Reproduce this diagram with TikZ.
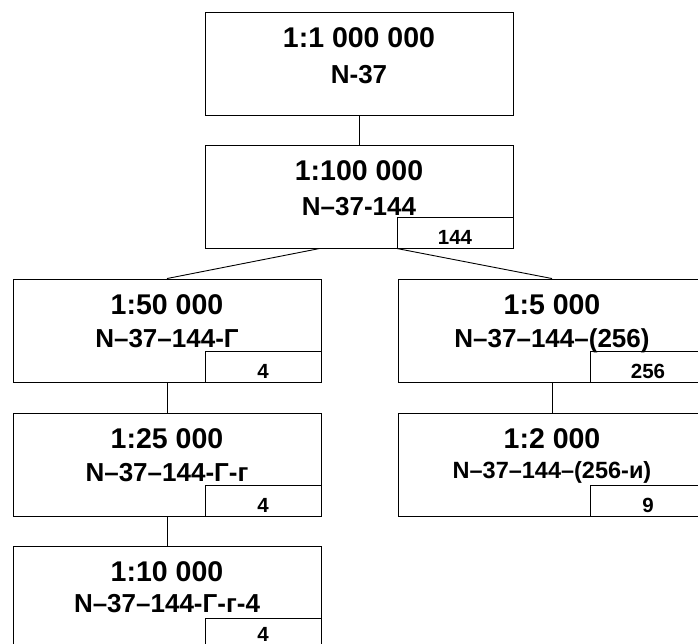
\documentclass[tikz,border=0pt]{standalone}
\usepackage{fontspec}
\setmainfont{Liberation Sans}
\usetikzlibrary{positioning}
\tikzset{
  sheet/.style={draw, line width=0.9pt, minimum width=308pt, minimum height=103pt, inner sep=0pt},
  cell/.style={draw, line width=0.9pt, minimum width=116pt, minimum height=31pt, inner sep=0pt, anchor=south east},
  scaletxt/.style={anchor=base, font=\fontsize{28.5}{30}\selectfont\bfseries},
  nomtxt/.style={anchor=base, font=\fontsize{26}{28}\selectfont\bfseries},
  numtxt/.style={anchor=base, inner sep=1pt, font=\fontsize{20.5}{22}\selectfont\bfseries},
  link/.style={line width=0.9pt}
}
\begin{document}
\begin{tikzpicture}[x=1pt,y=1pt]
    \useasboundingbox (0,0) rectangle (698,644);

    % 1:1 000 000
    \node[sheet] (m1000k) at (359,580.5) {};
    \node[scaletxt] (s1000k) at ([yshift=-36pt]m1000k.north) {1:1 000 000};
    \node[nomtxt] (n1000k) at ([yshift=-72pt]m1000k.north) {N-37};

    % 1:100 000
    \node[sheet] (m100k) at (359,447.5) {};
    \node[cell] (c100k) at (m100k.south east) {};
    \node[scaletxt] (s100k) at ([yshift=-36pt]m100k.north) {1:100 000};
    \node[nomtxt] (n100k) at ([yshift=-71pt]m100k.north) {N–37-144};
    \node[numtxt] (k100k) at ([yshift=4pt]c100k.south) {144};

    % 1:50 000
    \node[sheet] (m50k) at (167,313.5) {};
    \node[cell] (c50k) at (m50k.south east) {};
    \node[scaletxt] (s50k) at ([yshift=-36pt]m50k.north) {1:50 000};
    \node[nomtxt] (n50k) at ([yshift=-69pt]m50k.north) {N–37–144-Г};
    \node[numtxt] (k50k) at ([yshift=4pt]c50k.south) {4};

    % 1:25 000
    \node[sheet] (m25k) at (167,179.5) {};
    \node[cell] (c25k) at (m25k.south east) {};
    \node[scaletxt] (s25k) at ([yshift=-36pt]m25k.north) {1:25 000};
    \node[nomtxt] (n25k) at ([yshift=-69pt]m25k.north) {N–37–144-Г-г};
    \node[numtxt] (k25k) at ([yshift=4pt]c25k.south) {4};

    % 1:10 000
    \node[sheet] (m10k) at (167,46.5) {};
    \node[cell] (c10k) at (m10k.south east) {};
    \node[scaletxt] (s10k) at ([yshift=-36pt]m10k.north) {1:10 000};
    \node[nomtxt] (n10k) at ([yshift=-67pt]m10k.north) {N–37–144-Г-г-4};
    \node[numtxt] (k10k) at ([yshift=8pt]c10k.south) {4};

    % 1:5 000
    \node[sheet] (m5k) at (552,313.5) {};
    \node[cell] (c5k) at (m5k.south east) {};
    \node[scaletxt] (s5k) at ([yshift=-36pt]m5k.north) {1:5 000};
    \node[nomtxt] (n5k) at ([yshift=-69pt]m5k.north) {N–37–144–(256)};
    \node[numtxt] (k5k) at ([yshift=4pt]c5k.south) {256};

    % 1:2 000
    \node[sheet] (m2k) at (552,179.5) {};
    \node[cell] (c2k) at (m2k.south east) {};
    \node[scaletxt] (s2k) at ([yshift=-36pt]m2k.north) {1:2 000};
    \node[nomtxt, font=\fontsize{23.5}{25}\selectfont\bfseries] (n2k) at ([yshift=-66pt]m2k.north) {N–37–144–(256-и)};
    \node[numtxt] (k2k) at ([yshift=4pt]c2k.south) {9};

    % links
    \coordinate (fork) at ([xshift=-39pt]m100k.south);
    \draw[link] (m1000k.south) -- (m100k.north);
    \draw[link] (fork) -- (m50k.north);
    \draw[link] (c100k.south west) -- (m5k.north);
    \draw[link] (m50k.south) -- (m25k.north);
    \draw[link] (m25k.south) -- (m10k.north);
    \draw[link] (m5k.south) -- (m2k.north);
\end{tikzpicture}
\end{document}
